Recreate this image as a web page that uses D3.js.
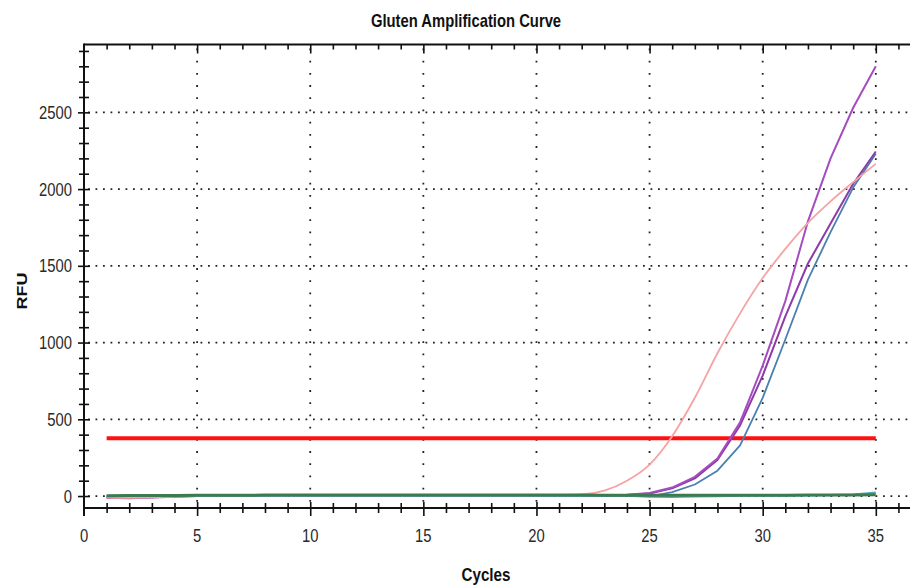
<!DOCTYPE html>
<html>
<head>
<meta charset="utf-8">
<script src="https://cdn.jsdelivr.net/npm/d3@7/dist/d3.min.js"></script>
<style>
  html, body { margin: 0; padding: 0; background: #fff; }
  svg { display: block; }
  text { font-family: "Liberation Sans", Arial, sans-serif; }
</style>
</head>
<body>
<svg id="chart" width="910" height="585"></svg>
<script>
// ---------- data ----------
const cycles = [1,2,3,4,5,6,7,8,9,10,11,12,13,14,15,16,17,18,19,20,21,22,23,24,25,26,27,28,29,30,31,32,33,34,35];
const xTickLabels = [0,5,10,15,20,25,30,35];
const yTickLabels = [0,500,1000,1500,2000,2500];
const threshold = 376;

const greenSeries  = [2,3,3,4,5,5,5,6,6,6,6,6,6,6,6,6,6,6,6,6,6,6,5,5,5,5,5,5,5,5,5,6,6,7,8];
const tealSeries   = [0,1,2,3,3,3,3,3,3,3,3,3,3,3,3,3,3,3,3,3,3,3,3,3,-4,-6,-3,0,2,2,3,4,6,10,22];
const blueSeries   = [-2,-3,-2,0,0,1,1,1,1,1,2,2,2,2,2,2,2,2,2,2,2,2,2,1,-2,25,75,165,330,640,1020,1410,1720,2010,2230];
const purple2Series= [-9,-11,-8,-3,0,0,1,1,1,2,2,2,2,2,3,3,3,3,3,3,3,4,4,7,17,50,115,235,460,785,1170,1515,1775,2035,2245];
const purple1Series= [-12,-14,-10,-4,0,1,1,1,2,2,2,2,3,3,3,3,3,3,3,4,4,4,5,8,20,55,125,245,480,850,1270,1790,2200,2530,2800];
const pinkSeries   = [-10,-12,-9,-3,0,1,1,2,2,2,3,3,3,3,4,4,4,4,4,5,6,10,35,100,205,390,640,930,1190,1420,1610,1780,1920,2045,2165];

// ---------- layout ----------
const svg = d3.select("#chart");
const X0 = 84, X1 = 912, YT = 44.5, YB = 508;
const x = d3.scaleLinear().domain([0, 36.6]).range([X0, X1]);
const y = d3.scaleLinear().domain([-78, 2942]).range([YB, YT]);

svg.append("rect").attr("width", 910).attr("height", 585).attr("fill", "#fff");

// grid
const grid = svg.append("g");
grid.selectAll("line.h").data(yTickLabels).join("line")
  .attr("x1", X0 + 4).attr("x2", 910)
  .attr("y1", d => y(d)).attr("y2", d => y(d))
  .attr("stroke", "#222").attr("stroke-width", 1.8)
  .attr("stroke-dasharray", "1.8,5.7");
grid.selectAll("line.v").data(xTickLabels.filter(d => d > 0)).join("line")
  .attr("x1", d => x(d)).attr("x2", d => x(d))
  .attr("y1", YT + 4).attr("y2", YB)
  .attr("stroke", "#222").attr("stroke-width", 1.8)
  .attr("stroke-dasharray", "1.8,10.4");

// axes
const axisColor = "#111";
const minorX = d3.range(1, 37);
// bottom axis
const gb = svg.append("g").attr("transform", `translate(0,${YB})`);
gb.call(d3.axisBottom(x).tickValues(minorX).tickSize(0).tickFormat(""));
gb.select(".domain").remove();
gb.append("line").attr("x1", X0).attr("x2", X1).attr("stroke", axisColor).attr("stroke-width", 2);
gb.selectAll(".tick line").attr("stroke", axisColor).attr("stroke-width", 1.6)
  .attr("y1", d => d % 5 === 0 ? -6 : -5).attr("y2", d => d % 5 === 0 ? 8 : 5);
gb.selectAll(".lbl").data(xTickLabels).join("text")
  .attr("transform", d => `translate(${x(d)},${34}) scale(0.8,1)`)
  .attr("text-anchor", "middle").attr("font-size", 18.5).attr("fill", "#2a2a2a").text(d => d);

// top axis
const gt = svg.append("g").attr("transform", `translate(0,${YT})`);
gt.call(d3.axisBottom(x).tickValues(minorX).tickSize(0).tickFormat(""));
gt.select(".domain").remove();
gt.append("line").attr("x1", X0).attr("x2", X1).attr("stroke", axisColor).attr("stroke-width", 2);
gt.selectAll(".tick line").attr("stroke", axisColor).attr("stroke-width", 1.6)
  .attr("y1", 0).attr("y2", d => d % 5 === 0 ? 9 : 5);

// left axis
const minorY = d3.range(0, 3000, 100);
const gl = svg.append("g").attr("transform", `translate(${X0},0)`);
gl.call(d3.axisLeft(y).tickValues(minorY).tickSize(0).tickFormat(""));
gl.select(".domain").remove();
gl.append("line").attr("y1", YT - 1).attr("y2", YB + 8).attr("stroke", axisColor).attr("stroke-width", 2);
gl.selectAll(".tick line").attr("stroke", axisColor).attr("stroke-width", 1.6)
  .attr("x1", d => d % 500 === 0 ? -6 : -5).attr("x2", d => d % 500 === 0 ? 6 : 5);
gl.selectAll(".lbl").data(yTickLabels).join("text")
  .attr("transform", d => `translate(-12,${y(d) + 6.5}) scale(0.8,1)`)
  .attr("text-anchor", "end").attr("font-size", 18.5).attr("fill", "#2a2a2a").text(d => d);

// threshold
svg.append("line")
  .attr("x1", x(cycles[0])).attr("x2", x(cycles[cycles.length - 1]))
  .attr("y1", y(threshold)).attr("y2", y(threshold))
  .attr("stroke", "#ff1010").attr("stroke-width", 4);

// curves (baseline curves drawn last, on top)
const series = [
  { v: blueSeries,    c: "#4a80b0", w: 1.8, curve: d3.curveLinear },
  { v: purple2Series, c: "#8e3aa8", w: 2,   curve: d3.curveLinear },
  { v: purple1Series, c: "#a44cc0", w: 2,   curve: d3.curveLinear },
  { v: pinkSeries,    c: "#f5a3a3", w: 1.8, curve: d3.curveMonotoneX },
  { v: tealSeries,    c: "#55aab8", w: 2.2, curve: d3.curveLinear },
  { v: greenSeries,   c: "#3d7a4e", w: 3,   curve: d3.curveLinear }
];
series.forEach(s => {
  const line = d3.line().x((d, i) => x(cycles[i])).y(d => y(d)).curve(s.curve);
  svg.append("path").datum(s.v).attr("d", line)
    .attr("fill", "none").attr("stroke", s.c).attr("stroke-width", s.w)
    .attr("stroke-linejoin", "round");
});

// titles
svg.append("text").attr("transform", "translate(466,27) scale(0.8,1)")
  .attr("text-anchor", "middle").attr("font-size", 18.5).attr("font-weight", "bold")
  .attr("fill", "#111").text("Gluten Amplification Curve");
svg.append("text").attr("transform", "translate(486,581) scale(0.8,1)")
  .attr("text-anchor", "middle").attr("font-size", 19).attr("font-weight", "bold")
  .attr("fill", "#111").text("Cycles");
svg.append("text").attr("transform", "translate(27,291) rotate(-90) scale(1,0.85)")
  .attr("text-anchor", "middle").attr("font-size", 18).attr("font-weight", "bold")
  .attr("fill", "#111").text("RFU");
</script>
</body>
</html>
